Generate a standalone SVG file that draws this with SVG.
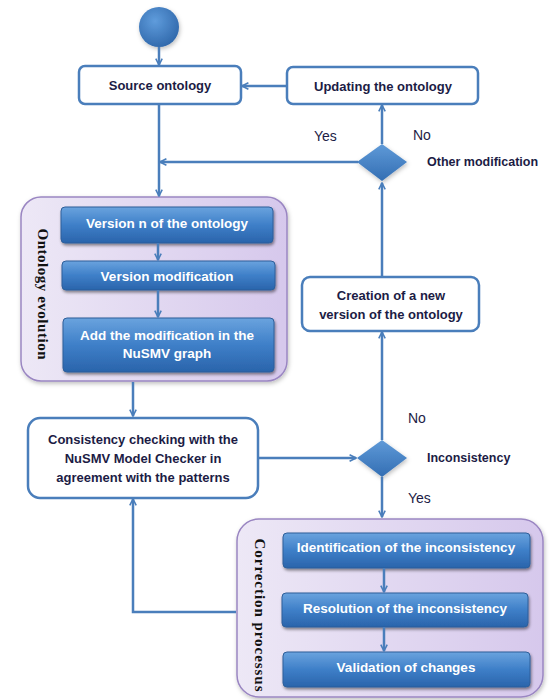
<svg xmlns="http://www.w3.org/2000/svg" width="551" height="700" viewBox="0 0 551 700">
<defs>
<linearGradient id="blueG" x1="0" y1="0" x2="0" y2="1">
<stop offset="0" stop-color="#6aa3de"/><stop offset="0.5" stop-color="#3e7fc8"/><stop offset="1" stop-color="#2a64ab"/>
</linearGradient>
<linearGradient id="purpG" x1="0" y1="0" x2="1" y2="0">
<stop offset="0" stop-color="#ede8f6"/><stop offset="1" stop-color="#d6c8ec"/>
</linearGradient>
<linearGradient id="diaG" x1="0" y1="0" x2="0" y2="1">
<stop offset="0" stop-color="#5f9ad8"/><stop offset="1" stop-color="#336eb3"/>
</linearGradient>
<radialGradient id="circG" cx="0.4" cy="0.35" r="0.7">
<stop offset="0" stop-color="#5f9cdc"/><stop offset="1" stop-color="#2f67aa"/>
</radialGradient>
<filter id="sh" x="-10%" y="-10%" width="125%" height="140%">
<feDropShadow dx="1" dy="2" stdDeviation="1.5" flood-color="#000" flood-opacity="0.45"/>
</filter>
<filter id="sh2" x="-10%" y="-10%" width="125%" height="125%">
<feDropShadow dx="1" dy="2" stdDeviation="2" flood-color="#000" flood-opacity="0.25"/>
</filter>
<marker id="arr" viewBox="0 0 10 10" refX="9" refY="5" markerWidth="8" markerHeight="8" markerUnits="userSpaceOnUse" orient="auto">
<path d="M1,1 L9,5 L1,9" fill="none" stroke="#4a7ebb" stroke-width="2"/>
</marker>
<style>
.wbox{fill:#fff;stroke:#4a7ebb;stroke-width:2.5}
.bbox{fill:url(#blueG);stroke:#2f5f9a;stroke-width:1;filter:url(#sh)}
.cont{fill:url(#purpG);stroke:#9a86c2;stroke-width:1.5;filter:url(#sh2)}
.dia{fill:url(#diaG);filter:url(#sh2)}
.wt{font-family:"Liberation Sans",Arial,sans-serif;font-weight:bold;font-size:13px;fill:#1c1c45;text-anchor:middle}
.bt{font-family:"Liberation Sans",Arial,sans-serif;font-weight:bold;font-size:13.5px;fill:#fff;text-anchor:middle}
.lab{font-family:"Liberation Sans",Arial,sans-serif;font-size:14px;fill:#1c1c45}
.dlab{font-family:"Liberation Sans",Arial,sans-serif;font-weight:bold;font-size:12.5px;fill:#1c1c45}
.vt{font-family:"Liberation Serif","Times New Roman",serif;font-weight:bold;font-size:15px;fill:#111;text-anchor:middle}
.con{fill:none;stroke:#4a7ebb;stroke-width:2.5}
</style>
</defs>

<g id="start">
<circle cx="159" cy="27" r="20" fill="url(#circG)" filter="url(#sh2)"/>
</g>

<g id="source-ontology">
<rect class="wbox" x="79" y="66" width="162" height="38" rx="6"/>
<text class="wt" x="160" y="90">Source ontology</text>
</g>

<g id="updating-ontology">
<rect class="wbox" x="287" y="67" width="191" height="37" rx="6"/>
<text class="wt" x="383" y="91">Updating the ontology</text>
</g>

<g id="other-modification">
<polygon class="dia" points="382,144 407,162 382,181 357,162"/>
<text class="dlab" x="427" y="166">Other modification</text>
<text class="lab" x="314" y="141">Yes</text>
<text class="lab" x="413" y="140">No</text>
</g>

<g id="ontology-evolution">
<rect class="cont" x="21" y="197" width="266" height="184" rx="20"/>
<text class="vt" transform="translate(38,294) rotate(90)" textLength="131" lengthAdjust="spacing">Ontology evolution</text>
<rect class="bbox" x="61" y="207" width="212" height="36" rx="4"/>
<text class="bt" x="167" y="228">Version n of the ontology</text>
<rect class="bbox" x="62" y="261" width="213" height="29" rx="4"/>
<text class="bt" x="167" y="281">Version modification</text>
<rect class="bbox" x="63" y="318" width="211" height="54" rx="4"/>
<text class="bt" x="167" y="340">Add the modification in the</text>
<text class="bt" x="167" y="358">NuSMV graph</text>
</g>

<g id="creation-version">
<rect class="wbox" x="302" y="277" width="177" height="54" rx="8"/>
<text class="wt" x="391" y="300">Creation of a new</text>
<text class="wt" x="391" y="319">version of the ontology</text>
</g>

<g id="consistency-checking">
<rect class="wbox" x="28" y="418" width="230" height="80" rx="12"/>
<text class="wt" x="143" y="444">Consistency checking with the</text>
<text class="wt" x="143" y="463">NuSMV Model Checker in</text>
<text class="wt" x="143" y="482">agreement with the patterns</text>
</g>

<g id="inconsistency">
<polygon class="dia" points="382,440 407,458 382,477 357,458"/>
<text class="dlab" x="427" y="462">Inconsistency</text>
<text class="lab" x="408" y="423">No</text>
<text class="lab" x="408" y="503">Yes</text>
</g>

<g id="correction-processus">
<rect class="cont" x="237" y="519" width="306" height="178" rx="22"/>
<text class="vt" transform="translate(255,615) rotate(90)" textLength="153" lengthAdjust="spacing">Correction processus</text>
<rect class="bbox" x="283" y="533" width="247" height="35" rx="4"/>
<text class="bt" x="406" y="552">Identification of the inconsistency</text>
<rect class="bbox" x="282" y="593" width="246" height="34" rx="4"/>
<text class="bt" x="405" y="613">Resolution of the inconsistency</text>
<rect class="bbox" x="283" y="652" width="247" height="35" rx="4"/>
<text class="bt" x="406" y="672">Validation of changes</text>
</g>

<g id="connectors">
<path class="con" d="M159,47 L159,65" marker-end="url(#arr)"/>
<path class="con" d="M287,86 L242,86" marker-end="url(#arr)"/>
<path class="con" d="M159,104 L159,196" marker-end="url(#arr)"/>
<path class="con" d="M358,162 L160,162" marker-end="url(#arr)"/>
<path class="con" d="M382,144 L382,105" marker-end="url(#arr)"/>
<path class="con" d="M382,277 L382,183" marker-end="url(#arr)"/>
<path class="con" d="M382,440 L382,332" marker-end="url(#arr)"/>
<path class="con" d="M133,382 L133,416" marker-end="url(#arr)"/>
<path class="con" d="M258,458 L356,458" marker-end="url(#arr)"/>
<path class="con" d="M382,477 L382,517" marker-end="url(#arr)"/>
<path class="con" d="M236,612 L133,612 L133,499" marker-end="url(#arr)"/>
<path class="con" d="M158,243 L158,260" marker-end="url(#arr)"/>
<path class="con" d="M158,290 L158,317" marker-end="url(#arr)"/>
<path class="con" d="M384,568 L384,592" marker-end="url(#arr)"/>
<path class="con" d="M384,627 L384,651" marker-end="url(#arr)"/>
</g>
</svg>
